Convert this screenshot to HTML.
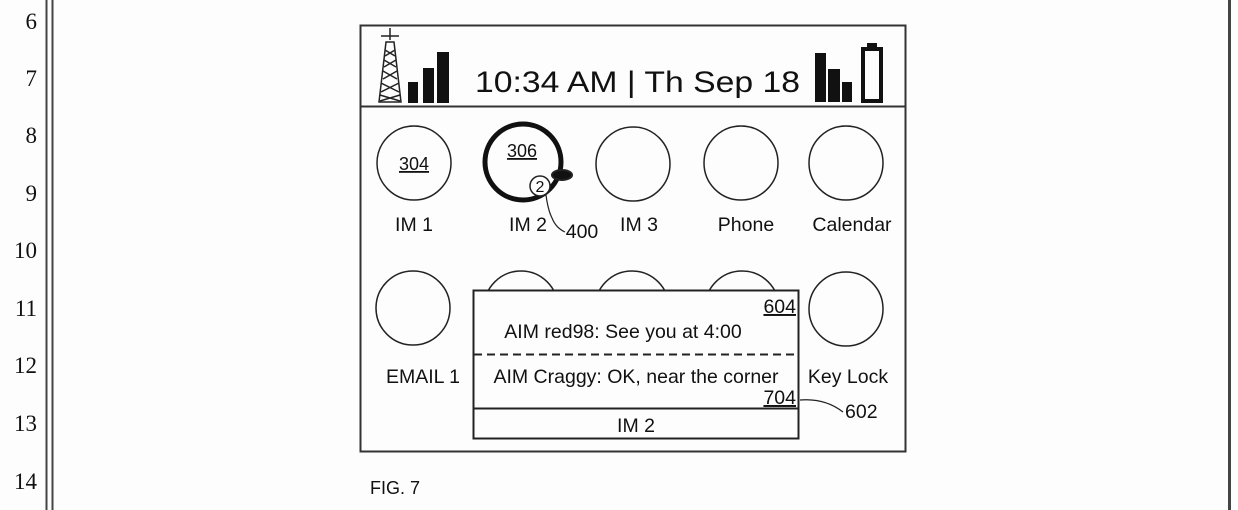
<!DOCTYPE html>
<html><head><meta charset="utf-8"><style>
html,body{margin:0;padding:0;background:#fdfdfd;}
svg{display:block}
text{font-family:"Liberation Sans",Arial,sans-serif;fill:#111}
.n{font-family:"Liberation Serif",serif;font-size:23px}
</style></head><body>
<svg width="1238" height="510" viewBox="0 0 1238 510" xmlns="http://www.w3.org/2000/svg">
<rect width="1238" height="510" fill="#fdfdfd"/>
<line x1="46.5" y1="0" x2="46.5" y2="510" stroke="#444" stroke-width="2"/>
<line x1="52.5" y1="0" x2="52.5" y2="510" stroke="#444" stroke-width="2"/>
<line x1="1229.5" y1="0" x2="1229.5" y2="510" stroke="#444" stroke-width="3"/>
<g text-anchor="end">
<text x="37" y="29" class="n">6</text>
<text x="37" y="86" class="n">7</text>
<text x="37" y="143" class="n">8</text>
<text x="37" y="201" class="n">9</text>
<text x="37" y="258" class="n">10</text>
<text x="37" y="316" class="n">11</text>
<text x="37" y="373" class="n">12</text>
<text x="37" y="431" class="n">13</text>
<text x="37" y="489" class="n">14</text>
</g>
<rect x="360.5" y="25.5" width="545" height="426" fill="none" stroke="#333" stroke-width="2"/>
<line x1="361" y1="106.5" x2="905" y2="106.5" stroke="#333" stroke-width="2"/>
<g stroke="#222" stroke-width="1.5" fill="none">
<line x1="390" y1="28" x2="390" y2="40"/>
<line x1="381" y1="36" x2="399" y2="36"/>
<path d="M386 42 L379 102 L401 102 L394 42 Z"/>
<path d="M385 50 L395 56 M395 50 L385 56 M384 60 L396 67 M396 60 L384 67 M383 71 L397 79 M397 71 L383 79 M381 83 L399 92 M399 83 L381 92 M380 95 L400 101 M400 95 L380 101"/>
</g>
<rect x="408" y="82" width="10" height="21" fill="#111"/>
<rect x="423" y="68" width="11" height="35" fill="#111"/>
<rect x="437" y="52" width="12" height="51" fill="#111"/>
<text x="475" y="92" font-size="30" textLength="325" lengthAdjust="spacingAndGlyphs">10:34 AM  | Th Sep 18</text>
<rect x="815" y="53" width="11" height="49" fill="#111"/>
<rect x="828" y="69" width="12" height="33" fill="#111"/>
<rect x="842" y="82" width="10" height="20" fill="#111"/>
<rect x="863" y="49" width="18" height="52" fill="none" stroke="#111" stroke-width="4"/>
<rect x="867" y="43" width="10" height="7" fill="#111"/>
<g fill="none" stroke="#222" stroke-width="1.5">
<circle cx="414" cy="163" r="37"/>
<circle cx="633" cy="164" r="37"/>
<circle cx="741" cy="163" r="37"/>
<circle cx="846" cy="163" r="37"/>
</g>
<circle cx="523" cy="162" r="38" fill="none" stroke="#111" stroke-width="5"/>
<circle cx="540" cy="186" r="10" fill="#fff" stroke="#222" stroke-width="1.5"/>
<text x="540" y="192" font-size="16" text-anchor="middle">2</text>
<ellipse cx="562" cy="175" rx="10" ry="5" fill="#111" stroke="#222" stroke-width="2"/>
<path d="M546 195 Q548 210 552 218 Q556 228 565 232" fill="none" stroke="#222" stroke-width="1.2"/>
<text x="414" y="170" font-size="18" text-anchor="middle" text-decoration="underline">304</text>
<text x="522" y="157" font-size="18" text-anchor="middle" text-decoration="underline">306</text>
<g font-size="19.5" text-anchor="middle">
<text x="414" y="231">IM 1</text>
<text x="528" y="231">IM 2</text>
<text x="582" y="238">400</text>
<text x="639" y="231">IM 3</text>
<text x="746" y="231">Phone</text>
<text x="852" y="231">Calendar</text>
</g>
<g fill="none" stroke="#222" stroke-width="1.5">
<circle cx="413" cy="308" r="37"/>
<circle cx="846" cy="309" r="37"/>
<circle cx="521" cy="308" r="37"/>
<circle cx="632" cy="308" r="37"/>
<circle cx="742" cy="308" r="37"/>
</g>
<rect x="473.5" y="290.5" width="325" height="148" fill="#fdfdfd" stroke="#222" stroke-width="2"/>
<line x1="474" y1="354.5" x2="798" y2="354.5" stroke="#222" stroke-width="2" stroke-dasharray="8,5"/>
<line x1="474" y1="408.5" x2="798" y2="408.5" stroke="#222" stroke-width="2"/>
<g font-size="19.5">
<text x="796" y="313" text-anchor="end" text-decoration="underline">604</text>
<text x="623" y="338" text-anchor="middle">AIM red98: See you at 4:00</text>
<text x="636" y="383" text-anchor="middle">AIM Craggy: OK, near the corner</text>
<text x="796" y="404" text-anchor="end" text-decoration="underline">704</text>
<text x="636" y="432" text-anchor="middle">IM 2</text>
<text x="423" y="383" text-anchor="middle">EMAIL 1</text>
<text x="848" y="383" text-anchor="middle">Key Lock</text>
<text x="845" y="418">602</text>
<text x="370" y="494" font-size="18">FIG. 7</text>
</g>
<path d="M800 400 Q825 398 843 412" fill="none" stroke="#222" stroke-width="1.2"/>
</svg>
</body></html>
